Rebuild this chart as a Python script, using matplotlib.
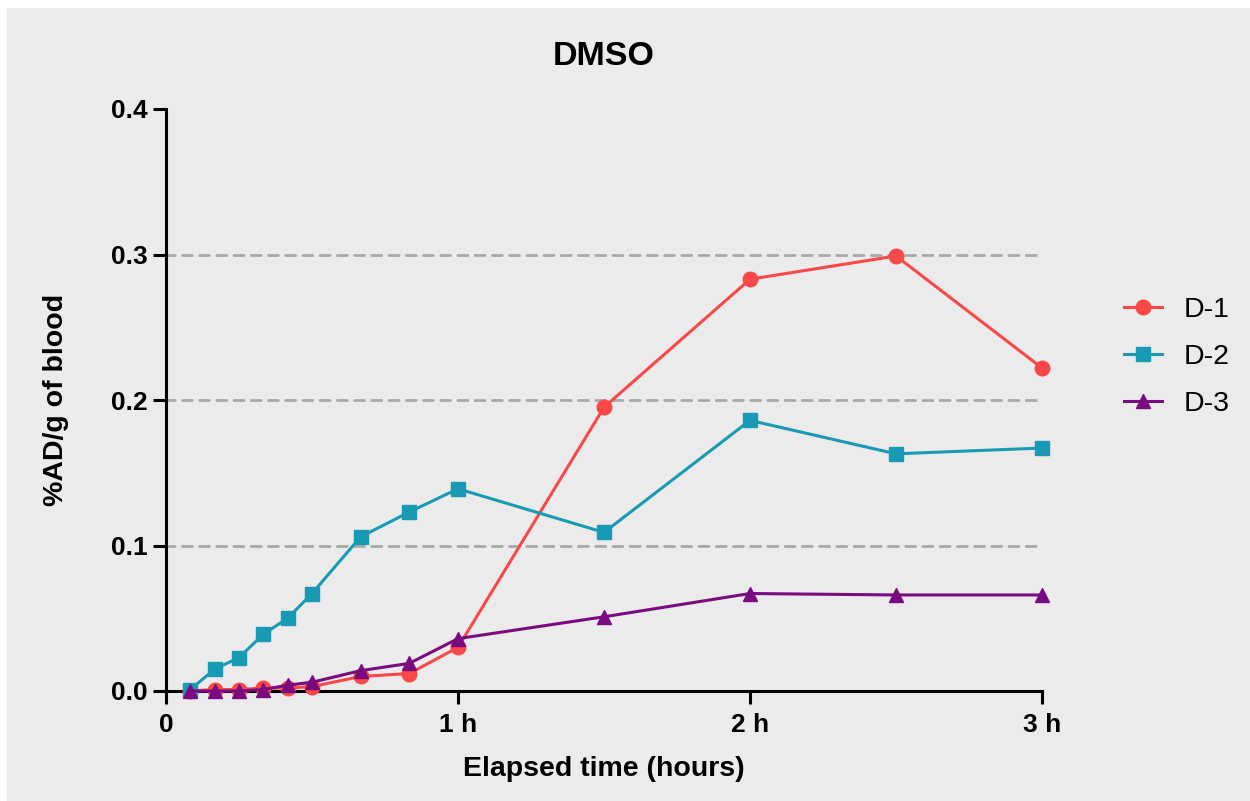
import matplotlib
matplotlib.use('Agg')
import matplotlib.pyplot as plt
from matplotlib.patches import Rectangle

# --- DATA ---
time_h = [5/60, 10/60, 15/60, 20/60, 25/60, 30/60, 40/60, 50/60, 1.0, 1.5, 2.0, 2.5, 3.0]
d1 = [0.000, 0.001, 0.001, 0.002, 0.002, 0.003, 0.010, 0.012, 0.030, 0.195, 0.283, 0.299, 0.222]
d2 = [0.001, 0.015, 0.023, 0.039, 0.050, 0.067, 0.106, 0.123, 0.139, 0.109, 0.186, 0.163, 0.167]
d3 = [0.000, 0.000, 0.000, 0.001, 0.004, 0.006, 0.014, 0.019, 0.036, 0.051, 0.067, 0.066, 0.066]
series_names = ['D-1', 'D-2', 'D-3']
x_ticks = [0, 1, 2, 3]
x_ticklabels = ['0', '1 h', '2 h', '3 h']
y_ticks = [0.0, 0.1, 0.2, 0.3, 0.4]
grid_levels = [0.1, 0.2, 0.3]

colors = ['#F94848', '#1899B4', '#7A0A80']
markers = ['o', 's', '^']

plt.rcParams['font.family'] = ['Liberation Sans', 'DejaVu Sans']

W, H = 1250, 801
fig = plt.figure(figsize=(W / 100, H / 100), dpi=100)
fig.patch.set_facecolor('white')
# grey panel behind everything, thin white margin top/left
fig.patches.append(Rectangle((7 / W, 0), 1 - 7 / W, 1 - 8 / H, transform=fig.transFigure,
                             facecolor='#EBEBEB', edgecolor='none', zorder=-10))

ax = fig.add_axes([166 / W, 1 - 691 / H, (1042 - 166) / W, (691 - 109) / H])
ax.set_facecolor('none')

for y in grid_levels:
    ax.plot([0, 3], [y, y], color='#A8A8A8', lw=2.0, ls=(0.5, (3.6, 2.6)),
            dash_capstyle='round', zorder=1)

for vals, name, c, m in zip([d1, d2, d3], series_names, colors, markers):
    ax.plot(time_h, vals, color=c, marker=m, markersize=10.5, lw=2.2, label=name,
            clip_on=False, zorder=3)

ax.set_xlim(0, 3)
ax.set_ylim(0, 0.4)
ax.set_xticks(x_ticks)
ax.set_xticklabels(x_ticklabels)
ax.set_yticks(y_ticks)
ax.set_yticklabels([f'{v:.1f}' for v in y_ticks])

for s in ['top', 'right']:
    ax.spines[s].set_visible(False)
for s in ['left', 'bottom']:
    ax.spines[s].set_linewidth(2.2)
    ax.spines[s].set_zorder(2)
ax.tick_params(axis='both', length=9.5, width=2.2, direction='out', labelsize=19)
ax.tick_params(axis='x', pad=6)
ax.tick_params(axis='y', pad=4)
for lab in ax.get_xticklabels() + ax.get_yticklabels():
    lab.set_fontweight('bold')

ax.set_xlabel('Elapsed time (hours)', fontsize=20.5, fontweight='bold', labelpad=14)
ax.set_ylabel('%AD/g of blood', fontsize=20.5, fontweight='bold', labelpad=30)
ax.set_title('DMSO', fontsize=24.5, fontweight='bold', pad=32)

leg = ax.legend(loc='center left', bbox_to_anchor=(1.064, 0.574), frameon=False,
                fontsize=20.5, handlelength=1.35, labelspacing=0.73, handletextpad=0.75)

fig.savefig('out.png', dpi=100, facecolor=fig.get_facecolor())
